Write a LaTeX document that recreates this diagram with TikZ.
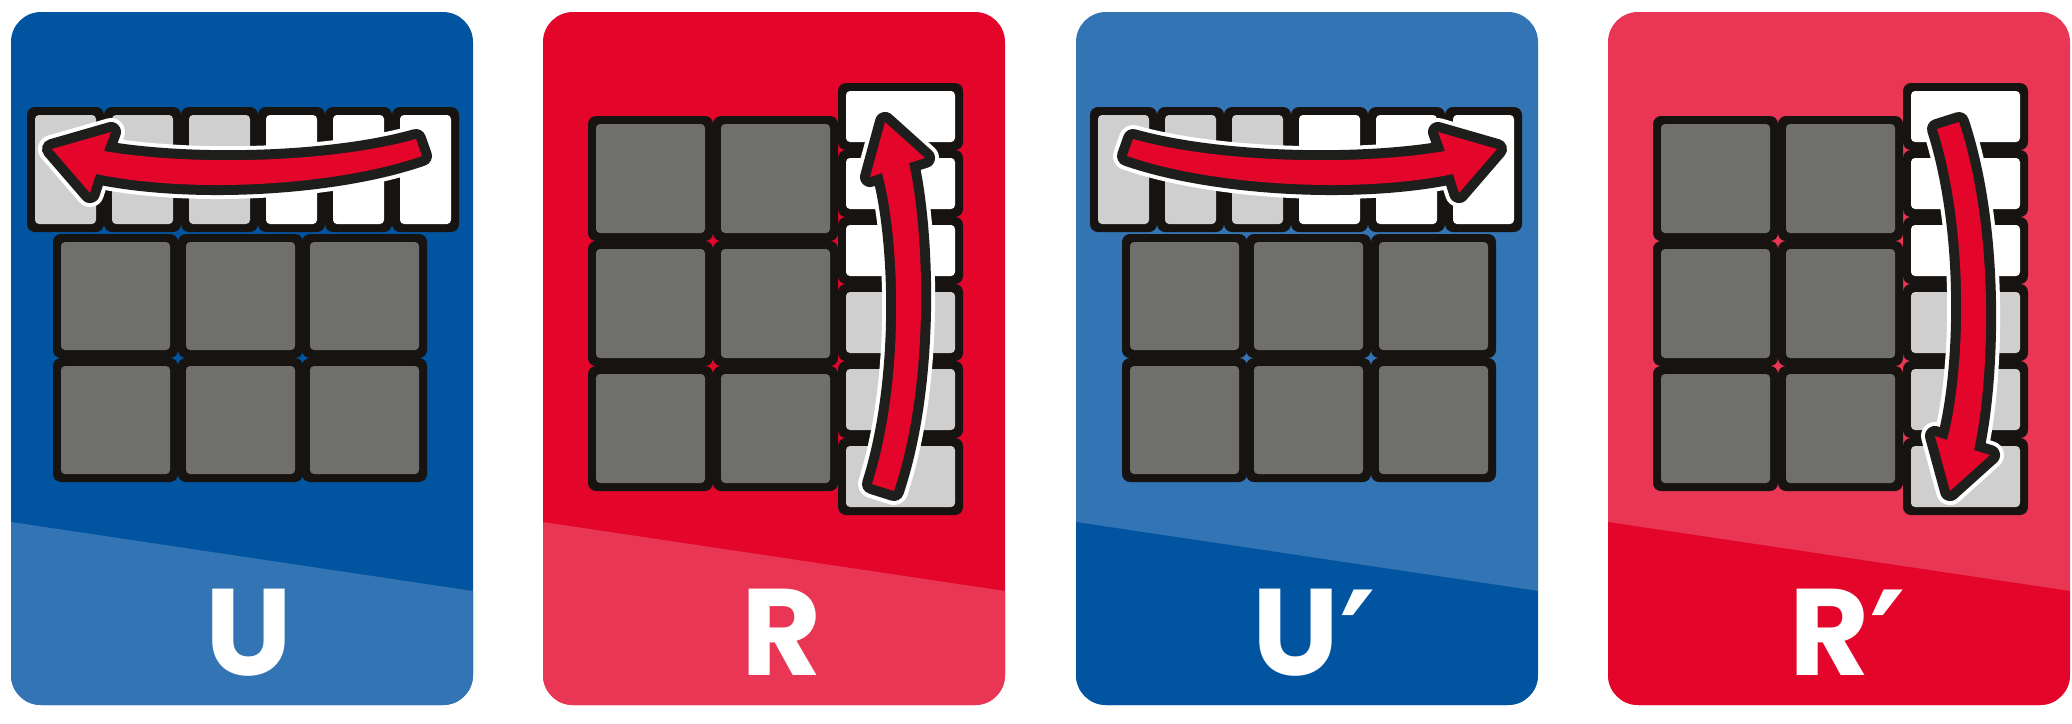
\documentclass[tikz,border=0pt]{standalone}
\usepackage{fontspec}
\usepackage{tikz}
\newfontfamily\movefont{Poppins}
\newfontfamily\primefont{DejaVu Sans}
\definecolor{deepblue}{RGB}{0,84,160}
\definecolor{lightblue}{RGB}{51,116,180}
\definecolor{deepred}{RGB}{227,6,42}
\definecolor{lightred}{RGB}{232,54,84}
\definecolor{frameblack}{RGB}{23,19,17}
\definecolor{arrowblack}{RGB}{30,30,28}
\definecolor{stickerdark}{RGB}{111,111,109}
\definecolor{stickerlight}{RGB}{207,207,207}

% one cube piece: black frame + sticker (corners in px, sticker colour)
\newcommand{\cubepiece}[5]{%
  \fill[frameblack, rounded corners=0.08cm] (#1,#2) rectangle (#3,#4);
  \fill[#5, rounded corners=0.04cm] (#1+8,#2+8) rectangle (#3-8,#4-8);}

% card with its lower band
\newcommand{\cardback}[2]{%
  \fill[#1, rounded corners=0.3cm] (0,12) rectangle (462,705);
  \begin{scope}
    \clip[rounded corners=0.3cm] (0,12) rectangle (462,705);
    \fill[#2] (0,522) -- (462,591) -- (462,705) -- (0,705) -- cycle;
  \end{scope}}

% prime sign after a move letter
\newcommand{\primesign}{%
  \raisebox{-5pt}{\primefont\bfseries\fontsize{40}{40}\selectfont ′}\kern3pt}

% U cards
\newcommand{\lowergrid}{%
  \foreach \y in {234,358}{
    \foreach \x in {42,167,291}{
      \cubepiece{\x}{\y}{\x+125}{\y+124}{stickerdark}
    }}}
\newcommand{\toprow}[2]{%
  \foreach \x in {16,93,170}{\cubepiece{\x}{107}{\x+77}{232}{#1}}
  \foreach \x in {247,314,381}{\cubepiece{\x}{107}{\x+67}{232}{#2}}}
\newcommand{\topturn}{%
  \path[twist] (93,151) .. controls (180,166) and (320,163) .. (405,139)
    -- (411,156) .. controls (325,186) and (180,194) .. (85,174)
    -- (79,193) -- (41,149) -- (100,132) -- cycle;}

% R cards
\newcommand{\sidegrid}{%
  \foreach \y in {116,241,366}{
    \foreach \x in {45,170}{
      \cubepiece{\x}{\y}{\x+125}{\y+125}{stickerdark}
    }}
  \foreach \y in {83,150,217}{\cubepiece{295}{\y}{420}{\y+67}{white}}
  \foreach \y in {284,361,438}{\cubepiece{295}{\y}{420}{\y+77}{stickerlight}}}
\newcommand{\sideturn}{%
  \path[twist] (366,163) .. controls (381,230) and (388,380) .. (351,491)
    -- (329,484) .. controls (362,380) and (357,240) .. (339,173)
    -- (327,177) -- (342,122) -- (382,158) -- cycle;}

\begin{document}
\begin{tikzpicture}[x=0.01cm, y=-0.01cm,
  twist/.style={fill=deepred, line join=round,
    preaction={draw=white, line width=0.28cm, line join=round},
    preaction={draw=arrowblack, line width=0.2cm, line join=round}},
  movelabel/.style={text=white, inner sep=0pt, anchor=base,
    font=\movefont\bfseries\fontsize{35}{35}\selectfont}]

  \useasboundingbox (0,0) rectangle (2072,723);
  \fill[white] (0,0) rectangle (2072,723);

  % U card
  \begin{scope}[shift={(11,0)}]
    \cardback{deepblue}{lightblue}
    \lowergrid
    \toprow{stickerlight}{white}
    \topturn
  \end{scope}
  \node[movelabel] (umove) at (249,675) {U};

  % R card
  \begin{scope}[shift={(543,0)}]
    \cardback{deepred}{lightred}
    \sidegrid
    \sideturn
  \end{scope}
  \node[movelabel] (rmove) at (782,675) {R};

  % U' card (mirrored)
  \begin{scope}[shift={(1076,0)}]
    \cardback{lightblue}{deepblue}
  \end{scope}
  \begin{scope}[shift={(1538,0)}, xscale=-1]
    \lowergrid
    \toprow{white}{stickerlight}
    \topturn
  \end{scope}
  \node[movelabel] (uprime) at (1320,675) {U\primesign};

  % R' card (arrow flipped)
  \begin{scope}[shift={(1608,0)}]
    \cardback{lightred}{deepred}
    \sidegrid
  \end{scope}
  \begin{scope}[shift={(1608,613)}, yscale=-1]
    \sideturn
  \end{scope}
  \node[movelabel] (rprime) at (1853,675) {R\primesign};

\end{tikzpicture}
\end{document}
